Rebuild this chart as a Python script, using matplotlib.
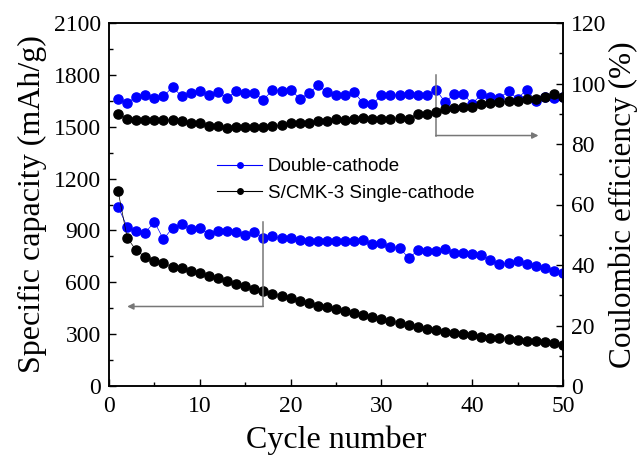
import numpy as np
import matplotlib.pyplot as plt
from matplotlib.ticker import MultipleLocator

cycles = np.arange(1, 51)

cap_double = [1037, 921, 896, 887, 950, 848, 916, 935, 910, 913,
              881, 898, 894, 892, 875, 890, 859, 865, 854, 854,
              844, 838, 838, 840, 840, 838, 840, 842, 819, 825,
              805, 801, 739, 784, 782, 780, 794, 771, 771, 763,
              757, 730, 708, 710, 722, 708, 693, 685, 665, 652]
cap_single = [1128, 858, 784, 747, 726, 709, 691, 681, 666, 652,
              635, 622, 608, 591, 577, 564, 549, 534, 521, 507,
              492, 478, 465, 455, 444, 434, 423, 411, 400, 388,
              376, 365, 355, 343, 332, 322, 314, 306, 300, 294,
              284, 279, 275, 271, 266, 261, 258, 252, 246, 237]
ce_double = [95.0, 93.5, 95.7, 96.2, 95.3, 95.8, 98.8, 95.8, 96.8, 97.6,
             96.2, 97.3, 95.2, 97.4, 96.7, 96.7, 94.7, 97.7, 97.6, 98.0,
             95.0, 96.7, 99.4, 97.2, 96.3, 96.2, 97.1, 93.5, 93.1, 96.1,
             96.1, 96.3, 96.6, 96.2, 96.2, 98.0, 93.9, 96.4, 96.5, 93.3,
             96.4, 95.7, 95.3, 97.4, 95.0, 98.0, 94.3, 95.5, 95.3, 95.5]
ce_single = [89.8, 88.3, 88.0, 88.0, 87.9, 87.9, 88.0, 87.7, 87.1, 86.8,
             86.0, 85.9, 85.2, 85.5, 85.5, 85.5, 85.7, 85.8, 86.3, 86.8,
             86.9, 87.1, 87.7, 87.5, 88.1, 88.0, 88.3, 88.5, 88.1, 88.1,
             88.3, 88.7, 88.4, 90.0, 90.0, 90.7, 91.5, 92.0, 92.2, 92.2,
             93.1, 93.7, 93.9, 94.2, 94.2, 94.8, 95.0, 95.5, 96.6, 95.5]

labels = ['Double-cathode', 'S/CMK-3 Single-cathode']

plt.rcParams['font.family'] = ['Liberation Serif', 'DejaVu Serif']

fig = plt.figure(figsize=(6.44, 4.63), dpi=100)
ax = fig.add_axes([109/644, 77/463, 454/644, 363/463])
ax2 = ax.twinx()

blue = '#0000ff'
ms = 6.6
ax.plot(cycles, cap_double, '-o', color=blue, ms=ms, lw=0.5, label=labels[0])
ax.plot(cycles, cap_single, '-o', color='black', ms=ms, lw=0.5, label=labels[1])
ax2.plot(cycles, ce_double, '-o', color=blue, ms=ms, lw=0.5, zorder=2)
ax2.plot(cycles, ce_single, '-o', color='black', ms=ms, lw=0.5, zorder=3)

ax.set_xlim(0, 50)
ax.set_ylim(0, 2100)
ax2.set_ylim(0, 120)
ax.xaxis.set_major_locator(MultipleLocator(10))
ax.xaxis.set_minor_locator(MultipleLocator(5))
ax.yaxis.set_major_locator(MultipleLocator(300))
ax.yaxis.set_minor_locator(MultipleLocator(150))
ax2.yaxis.set_major_locator(MultipleLocator(20))
ax2.yaxis.set_minor_locator(MultipleLocator(10))

for a in (ax, ax2):
    for s in a.spines.values():
        s.set_linewidth(1.1)
    a.tick_params(which='both', direction='in', labelsize=17, width=1.0)
    a.tick_params(which='major', length=5)
    a.tick_params(which='minor', length=3)
ax.tick_params(axis='x', pad=7, top=False)
ax.tick_params(axis='y', pad=6)
ax2.tick_params(axis='y', pad=6)

ax.set_xlabel('Cycle number', fontsize=23, labelpad=6)
ax.set_ylabel('Specific capacity (mAh/g)', fontsize=23, labelpad=5)
ax2.set_ylabel('Coulombic efficiency (%)', fontsize=22.5, labelpad=1)

# pointer arrows
arrow_col = '#777777'
ax.plot([17, 17], [946, 460], color=arrow_col, lw=1.1)
ax.annotate('', xy=(2, 460), xytext=(17, 460),
            arrowprops=dict(arrowstyle='-|>', color=arrow_col, lw=1.1,
                            mutation_scale=9, shrinkA=0, shrinkB=0))
ax2.plot([36, 36], [102.7, 82.8], color=arrow_col, lw=1.1)
ax2.annotate('', xy=(47.3, 82.8), xytext=(36, 82.8),
             arrowprops=dict(arrowstyle='-|>', color=arrow_col, lw=1.1,
                             mutation_scale=9, shrinkA=0, shrinkB=0))

leg = ax.legend(loc='upper left', bbox_to_anchor=(217/644, 1 - 158/463),
                bbox_transform=fig.transFigure, frameon=False,
                prop={'family': 'Liberation Sans', 'size': 13.5},
                markerscale=0.6, handlelength=2.4, handletextpad=0.3,
                labelspacing=0.5, borderpad=0, borderaxespad=0)
for h in leg.legend_handles:
    h.set_linewidth(0.8)
ax.set_zorder(ax2.get_zorder() + 1)
ax.patch.set_visible(False)

fig.savefig('out.png', dpi=100)
